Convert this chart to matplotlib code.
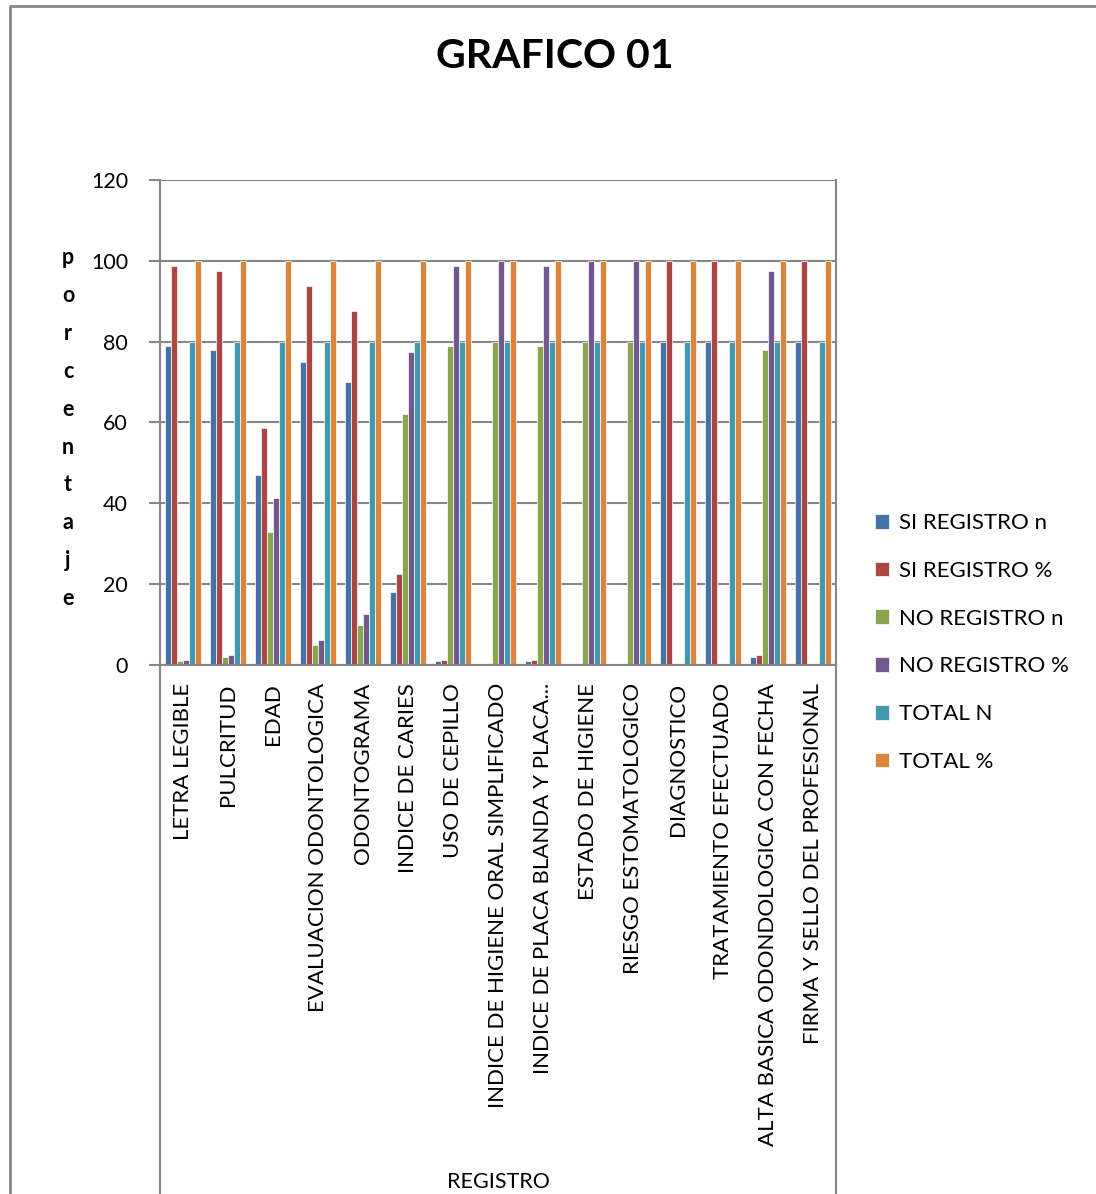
import matplotlib.pyplot as plt
from matplotlib.lines import Line2D
import numpy as np

plt.rcParams['font.family'] = ['Lato', 'DejaVu Sans']

categorias = ["LETRA LEGIBLE", "PULCRITUD", "EDAD", "EVALUACION ODONTOLOGICA",
              "ODONTOGRAMA", "INDICE DE CARIES", "USO DE CEPILLO",
              "INDICE DE HIGIENE ORAL SIMPLIFICADO",
              "INDICE DE PLACA BLANDA Y PLACA...", "ESTADO DE HIGIENE",
              "RIESGO ESTOMATOLOGICO", "DIAGNOSTICO", "TRATAMIENTO EFECTUADO",
              "ALTA BASICA ODONDOLOGICA CON FECHA",
              "FIRMA Y SELLO DEL PROFESIONAL"]

si_n = [79, 78, 47, 75, 70, 18, 1, 0, 1, 0, 0, 80, 80, 2, 80]
si_pct = [98.75, 97.5, 58.75, 93.75, 87.5, 22.5, 1.25, 0, 1.25, 0, 0, 100, 100, 2.5, 100]
no_n = [1, 2, 33, 5, 10, 62, 79, 80, 79, 80, 80, 0, 0, 78, 0]
no_pct = [1.25, 2.5, 41.25, 6.25, 12.5, 77.5, 98.75, 100, 98.75, 100, 100, 0, 0, 97.5, 0]
total_n = [80] * 15
total_pct = [100] * 15

series = [("SI REGISTRO n", si_n, "#4572A7"),
          ("SI REGISTRO %", si_pct, "#AA4643"),
          ("NO REGISTRO n", no_n, "#89A54E"),
          ("NO REGISTRO %", no_pct, "#71588F"),
          ("TOTAL N", total_n, "#4198AF"),
          ("TOTAL %", total_pct, "#DB843D")]

W, H = 1096, 1194
fig = plt.figure(figsize=(W / 100, H / 100), dpi=100)
gris = "#868686"

# plot area in pixels: x 160-836, y 180-665
ax = fig.add_axes([160 / W, 1 - 665 / H, 676 / W, 485 / H])

x = np.arange(len(categorias))
ancho = 0.8 / 6
handles = []
for i, (nombre, vals, color) in enumerate(series):
    b = ax.bar(x - 0.4 + ancho * (i + 0.5), vals, ancho, color=color,
               edgecolor="white", linewidth=0.5, label=nombre, zorder=2)
    handles.append(b)

ax.set_xlim(-0.5, len(categorias) - 0.5)
ax.set_ylim(0, 120)
ax.set_yticks(range(0, 121, 20))
ax.yaxis.grid(True, color=gris, linewidth=1.5, zorder=0)
ax.set_xticks(x)
ax.set_xticklabels(categorias, rotation=90, fontsize=16, va="top")
ax.tick_params(axis="x", length=0, pad=13)
ax.tick_params(axis="y", length=8, width=1.5, color=gris, labelsize=15.5, pad=15)
for lado in ["left", "right", "bottom"]:
    ax.spines[lado].set_color(gris)
    ax.spines[lado].set_linewidth(1.5)
    ax.spines[lado].set_zorder(3)
ax.spines["top"].set_visible(False)

# plot area border keeps going down past the labels
for xp in [160, 836]:
    fig.add_artist(Line2D([xp / W, xp / W], [0, 1 - 665 / H], color=gris, linewidth=1.5))

# outer chart border
fig.add_artist(Line2D([9.5 / W, 9.5 / W, 1], [0, 1 - 6 / H, 1 - 6 / H], color=gris, linewidth=2))

fig.text(555 / W, 1 - 57 / H, "GRAFICO 01", fontsize=29.5, fontweight="bold",
         ha="center", va="center")

for k, letra in enumerate("porcentaje"):
    fig.text(68 / W, 1 - (258 + k * 37.8) / H, letra, fontsize=15.5,
             fontweight="bold", ha="center", va="center")

fig.text(498 / W, 1 - 1182 / H, "REGISTRO", fontsize=15.5, ha="center", va="center")

fig.legend(handles=handles, loc="upper left", bbox_to_anchor=(855 / W, 1 - 493 / H),
           frameon=False, fontsize=16, handlelength=0.65, handleheight=0.65,
           handletextpad=0.45, labelspacing=1.25)

fig.savefig("out.png", dpi=100)
